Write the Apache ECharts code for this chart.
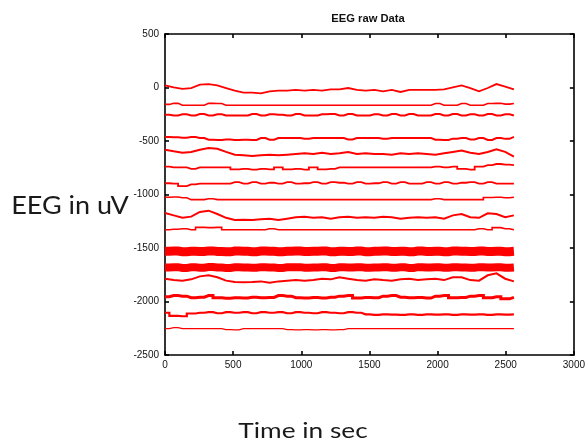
<!DOCTYPE html>
<html>
<head>
<meta charset="utf-8">
<script src="https://cdn.jsdelivr.net/npm/echarts@6/dist/echarts.min.js"></script>
<style>
html,body{margin:0;padding:0;background:#fff;}
#chart{width:588px;height:443px;}
</style>
</head>
<body>
<div id="chart"></div>
<script>
var titleText = "EEG raw Data";
var xName = "Time in sec";
var yName = "EEG in uV";
var xTicks = [0, 500, 1000, 1500, 2000, 2500, 3000];
var yTicks = [-2500, -2000, -1500, -1000, -500, 0, 500];

var times = [0,64,128,192,256,320,384,448,512,576,640,704,768,832,896,960,1024,1088,1152,1216,1280,1344,1408,1472,1536,1600,1664,1728,1792,1856,1920,1984,2048,2112,2176,2240,2304,2368,2432,2496,2560];

var ch1 = [20,2,-12,-5,26,32,20,-5,-30,-48,-48,-55,-36,-30,-30,-23,-30,-23,-30,-17,-17,-5,-23,-30,-23,-36,-23,-42,-23,-23,-23,-23,-17,2,20,-5,-36,-5,32,8,-17];
var ch2 = [-158,-148,-166,-166,-166,-148,-150,-166,-166,-166,-166,-166,-166,-166,-166,-166,-166,-166,-166,-166,-166,-166,-166,-166,-166,-166,-166,-166,-166,-166,-166,-150,-166,-166,-150,-166,-166,-150,-148,-155,-150];
var ch3 = [-255,-262,-250,-262,-248,-262,-250,-262,-262,-262,-248,-262,-250,-255,-262,-248,-262,-262,-250,-248,-262,-248,-262,-262,-250,-262,-248,-262,-248,-262,-262,-248,-262,-248,-262,-250,-262,-248,-262,-250,-262];
var ch4 = [-462,-465,-470,-462,-472,-488,-490,-486,-490,-488,-490,-472,-488,-472,-472,-472,-478,-472,-472,-472,-472,-485,-472,-472,-472,-478,-472,-472,-472,-472,-472,-488,-490,-478,-472,-485,-472,-490,-472,-480,-462];
var ch5 = [-581,-596,-609,-602,-581,-565,-572,-602,-628,-634,-640,-634,-628,-634,-628,-621,-615,-621,-609,-621,-615,-602,-621,-615,-621,-621,-628,-615,-621,-615,-621,-628,-615,-602,-590,-609,-621,-602,-578,-602,-646];
var ch6 = [-740,-746,-746,-760,-746,-746,-746,-746,-765,-760,-768,-760,-765,-746,-765,-760,-768,-746,-765,-760,-746,-746,-746,-746,-746,-746,-746,-746,-746,-746,-746,-740,-746,-740,-760,-768,-740,-725,-715,-720,-725];
var ch7 = [-895,-899,-922,-905,-899,-899,-899,-899,-885,-899,-885,-899,-890,-899,-885,-899,-895,-885,-899,-885,-890,-899,-885,-899,-895,-885,-899,-885,-899,-899,-885,-899,-885,-899,-890,-885,-899,-885,-899,-899,-899];
var ch8 = [-1026,-1024,-1030,-1048,-1048,-1040,-1048,-1048,-1048,-1048,-1048,-1048,-1048,-1048,-1048,-1048,-1048,-1048,-1048,-1048,-1048,-1048,-1048,-1048,-1048,-1048,-1048,-1048,-1048,-1048,-1048,-1040,-1048,-1048,-1048,-1048,-1048,-1028,-1026,-1030,-1026];
var ch9 = [-1173,-1195,-1218,-1207,-1163,-1151,-1182,-1218,-1238,-1235,-1238,-1232,-1226,-1238,-1226,-1213,-1207,-1218,-1213,-1226,-1213,-1207,-1218,-1213,-1218,-1207,-1213,-1226,-1218,-1213,-1218,-1213,-1226,-1195,-1182,-1213,-1218,-1176,-1182,-1213,-1195];
var ch10 = [-1329,-1325,-1320,-1329,-1307,-1310,-1307,-1329,-1329,-1329,-1329,-1329,-1320,-1329,-1329,-1329,-1329,-1329,-1329,-1329,-1329,-1329,-1329,-1329,-1329,-1329,-1329,-1329,-1329,-1329,-1329,-1329,-1329,-1329,-1329,-1329,-1320,-1329,-1310,-1320,-1329];
var ch11 = [-1531,-1528,-1535,-1530,-1533,-1527,-1532,-1536,-1529,-1531,-1534,-1528,-1531,-1535,-1530,-1528,-1533,-1531,-1529,-1535,-1530,-1532,-1528,-1534,-1531,-1529,-1533,-1530,-1535,-1528,-1532,-1530,-1534,-1529,-1531,-1533,-1528,-1532,-1530,-1534,-1531];
var ch12 = [-1682,-1679,-1686,-1681,-1684,-1678,-1683,-1687,-1680,-1682,-1685,-1679,-1682,-1686,-1681,-1679,-1684,-1682,-1680,-1686,-1681,-1683,-1679,-1685,-1682,-1680,-1684,-1681,-1686,-1679,-1683,-1681,-1685,-1680,-1682,-1684,-1679,-1683,-1681,-1685,-1682];
var ch13 = [-1787,-1800,-1805,-1793,-1765,-1755,-1774,-1805,-1818,-1821,-1818,-1812,-1824,-1812,-1805,-1800,-1805,-1800,-1787,-1793,-1774,-1787,-1800,-1805,-1793,-1800,-1805,-1793,-1787,-1800,-1793,-1787,-1800,-1774,-1774,-1800,-1805,-1755,-1737,-1787,-1812];
var ch14 = [-1955,-1945,-1950,-1965,-1960,-1945,-1965,-1970,-1965,-1968,-1960,-1965,-1962,-1945,-1950,-1965,-1968,-1962,-1968,-1960,-1950,-1945,-1968,-1962,-1965,-1950,-1945,-1960,-1965,-1962,-1968,-1950,-1945,-1965,-1962,-1950,-1945,-1965,-1955,-1975,-1962];
var ch15 = [-2105,-2135,-2138,-2112,-2105,-2100,-2110,-2100,-2105,-2100,-2110,-2100,-2105,-2100,-2110,-2100,-2105,-2110,-2100,-2105,-2110,-2100,-2105,-2120,-2125,-2120,-2122,-2125,-2120,-2125,-2120,-2123,-2120,-2125,-2120,-2123,-2120,-2125,-2120,-2123,-2120];
var ch16 = [-2254,-2245,-2254,-2254,-2254,-2254,-2254,-2262,-2266,-2254,-2254,-2254,-2254,-2254,-2262,-2266,-2262,-2266,-2262,-2266,-2262,-2254,-2254,-2254,-2254,-2254,-2254,-2254,-2254,-2254,-2254,-2254,-2254,-2254,-2254,-2254,-2254,-2254,-2254,-2254,-2254];

var channels = [ch1,ch2,ch3,ch4,ch5,ch6,ch7,ch8,ch9,ch10,ch11,ch12,ch13,ch14,ch15,ch16];
var widths = [1.8,1.6,2,2,2,1.8,1.8,1.6,2,1.6,9,8,2,3,2.2,1.3];
var wavy = [true,false,false,false,true,false,false,false,true,false,false,false,true,false,false,false];

var series = channels.map(function (ch, i) {
  return {
    type: 'line',
    xAxisIndex: 0,
    yAxisIndex: 0,
    showSymbol: false,
    symbol: 'none',
    silent: true,
    step: wavy[i] ? false : 'middle',
    data: ch.map(function (v, j) { return [times[j], v]; }),
    lineStyle: { color: '#ff0000', width: widths[i], join: 'miter' }
  };
});

function plain(v) { return String(v); }
var tickFont = { fontSize: 10, color: '#111', fontFamily: 'Liberation Sans', formatter: plain };
var axisLineStyle = { show: true, onZero: false, lineStyle: { color: '#000', width: 1.6 } };
var tickStyle = { show: true, inside: true, length: 4, lineStyle: { color: '#000', width: 1.6 } };

var chart = echarts.init(document.getElementById('chart'), null, { renderer: 'canvas' });
chart.setOption({
  animation: false,
  backgroundColor: '#fff',
  grid: { left: 165, top: 34, right: 13, bottom: 88, show: false },
  xAxis: [
    { type: 'value', position: 'bottom', min: xTicks[0], max: xTicks[xTicks.length - 1], interval: 500,
      axisLine: axisLineStyle, axisTick: tickStyle,
      axisLabel: Object.assign({ margin: 5 }, tickFont),
      splitLine: { show: false } },
    { type: 'value', position: 'top', min: xTicks[0], max: xTicks[xTicks.length - 1], interval: 500,
      axisLine: axisLineStyle, axisTick: tickStyle,
      axisLabel: { show: false }, splitLine: { show: false } }
  ],
  yAxis: [
    { type: 'value', position: 'left', min: yTicks[0], max: yTicks[yTicks.length - 1], interval: 500,
      axisLine: axisLineStyle, axisTick: tickStyle,
      axisLabel: Object.assign({ margin: 6 }, tickFont),
      splitLine: { show: false } },
    { type: 'value', position: 'right', min: yTicks[0], max: yTicks[yTicks.length - 1], interval: 500,
      axisLine: axisLineStyle, axisTick: tickStyle,
      axisLabel: { show: false }, splitLine: { show: false } }
  ],
  graphic: [
    { type: 'text', x: 368, y: 19, scaleX: 1.12,
      style: { text: titleText, fontSize: 10, fontWeight: 'bold', fontFamily: 'Liberation Sans', fill: '#111', align: 'center', verticalAlign: 'middle' } },
    { type: 'text', x: 70, y: 206, scaleX: 1.08,
      style: { text: yName, fontSize: 25, fontFamily: 'Lato', fill: '#1a1a1a', align: 'center', verticalAlign: 'middle' } },
    { type: 'text', x: 303, y: 431, scaleX: 1.25,
      style: { text: xName, fontSize: 21, fontFamily: 'Lato', fill: '#1a1a1a', align: 'center', verticalAlign: 'middle' } }
  ],
  series: series
});
</script>
</body>
</html>
